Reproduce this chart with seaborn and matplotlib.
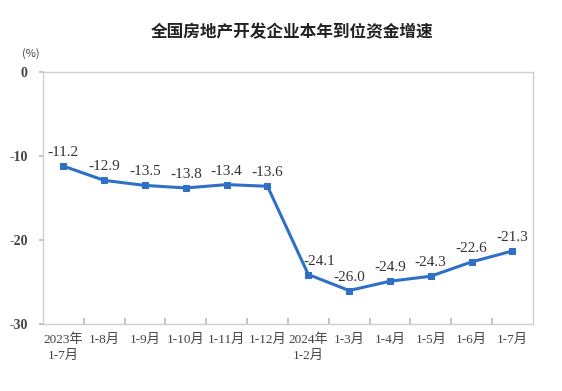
import matplotlib
matplotlib.use("Agg")
import matplotlib.pyplot as plt
import seaborn as sns
import pandas as pd
import numpy as np

categories = ["2023年\n1-7月", "1-8月", "1-9月", "1-10月", "1-11月", "1-12月",
              "2024年\n1-2月", "1-3月", "1-4月", "1-5月", "1-6月", "1-7月"]
values = [-11.2, -12.9, -13.5, -13.8, -13.4, -13.6, -24.1, -26.0, -24.9, -24.3, -22.6, -21.3]
yticks = [0, -10, -20, -30]

sns.set_theme(style="white")
plt.rcParams['font.family'] = ['Liberation Serif', 'Noto Sans CJK SC', 'DejaVu Sans']

df = pd.DataFrame({"pos": np.arange(len(categories)), "val": values})

fig = plt.figure(figsize=(5.62, 3.91), dpi=100)
ax = fig.add_axes([0.0765, 0.171, 0.8715, 0.645])
color = "#2F6FC6"
sns.lineplot(data=df, x="pos", y="val", ax=ax, color=color, linewidth=2.2,
             marker="s", markersize=4.5, markeredgecolor=color, sort=False)

for i, (x, v) in enumerate(zip(df["pos"], df["val"])):
    dx = 8 if i == 6 else 0
    ax.annotate(f"{v:.1f}", (x, v), xytext=(dx, 5), textcoords="offset points",
                ha="center", va="bottom", fontsize=11, color="#333333")

n = len(categories)
ax.set_xlim(-0.5, n - 0.5)
ax.set_ylim(-30, 0)
ax.set_yticks(yticks)
ax.set_yticklabels([str(t) for t in yticks], fontsize=10, color="#444444", fontweight="bold")
ax.set_xticks(np.arange(0.5, n - 0.5, 1.0))
ax.set_xticklabels([])
ax.set_xticks(np.arange(n), minor=True)
ax.set_xticklabels(categories, minor=True, fontsize=9.5, color="#444444", linespacing=1.35)
ax.tick_params(axis="x", which="major", direction="in", length=4, color="#BBBBBB", bottom=True)
ax.tick_params(axis="x", which="minor", length=0, pad=7)
ax.tick_params(axis="y", direction="out", length=3, color="#BBBBBB", left=True, pad=8)
for s in ax.spines.values():
    s.set_color("#CFCFCF")
    s.set_linewidth(1.0)
ax.set_xlabel("")
ax.set_ylabel("")
ax.grid(False)

fig.text(0.52, 0.918, "全国房地产开发企业本年到位资金增速", ha="center", va="center",
         fontsize=12, color="#222222", family=['Noto Sans CJK SC'], fontweight="bold")
fig.text(0.055, 0.864, "(%)", ha="center", va="center", fontsize=8, color="#444444",
         family=['Noto Sans CJK SC'])

fig.savefig("out.png", dpi=100)
